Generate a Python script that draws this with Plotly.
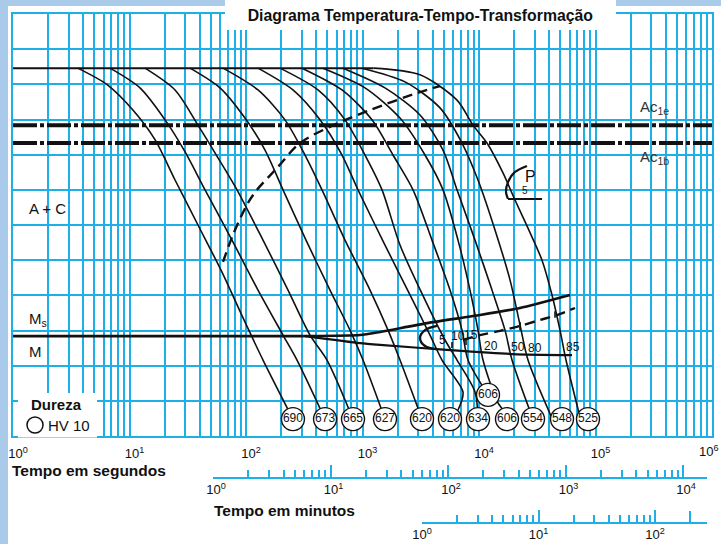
import numpy as np
import plotly.graph_objects as go

FONT = "Liberation Sans, Arial, Helvetica, sans-serif"
NARROW = "Liberation Sans Narrow, Liberation Sans, Arial, sans-serif"
GRID = "#1eaee8"
FRAME = "#a9cbe9"
INK = "#111111"

# ---------------- data (time in s, temperature in °C) ----------------
austenite_t = [1, 1243]
austenite_T = [1046, 1046]

ac_t = [1, 1e6]
ac1e_T = [884, 884]
ac1b_T = [833, 833]

c690_t = [3.6, 6.5, 10.7, 16.6, 24.6, 38.7, 62.2, 96.1, 140, 253]
c690_T = [1046, 998, 927, 842, 728, 600, 466, 330, 216, 48]
c673_t = [6.8, 12.3, 20.2, 30.0, 44.5, 75.8, 126.8, 207.8, 274, 477]
c673_T = [1046, 990, 899, 808, 700, 557, 415, 287, 216, 48]
c665_t = [13.6, 24.6, 38.7, 57.5, 83.7, 140, 229.4, 354.3, 495.8, 829]
c665_T = [1046, 984, 884, 791, 700, 557, 415, 287, 216, 48]
c627_t = [33.1, 59.8, 98, 145.6, 207.8, 327.3, 526, 781, 1010, 1560]
c627_T = [1046, 990, 904, 813, 700, 557, 415, 301, 216, 48]
c620a_t = [63.5, 126.8, 216.1, 320.9, 449.2, 707.6, 1160, 1656, 2098, 3241]
c620a_T = [1046, 984, 899, 799, 700, 557, 415, 301, 216, 48]
c620b_t = [126.8, 253, 431.7, 666.8, 915, 1560, 2557, 3796, 4813, 7289, 6603]
c620b_T = [1046, 984, 899, 799, 700, 543, 401, 287, 216, 125, 74]
c634_t = [195.8, 414.9, 707.6, 1051, 1471, 2098, 3439, 5108, 6475, 9241, 9804]
c634_T = [1046, 984, 899, 799, 700, 543, 387, 273, 216, 125, 48]
c606a_t = [302.4, 666.8, 1206, 1827, 2713, 3950, 5637, 7146, 8046, 11950]
c606a_T = [1046, 984, 899, 799, 700, 557, 415, 301, 216, 117]
c606b_t = [458, 1051, 2098, 3439, 4909, 6603, 8370, 9804, 10820, 14560, 16720]
c606b_T = [1046, 990, 904, 799, 700, 557, 415, 301, 216, 94, 68]
c554_t = [680, 1560, 3116, 4909, 6475, 9241, 12930, 16720, 19200, 29070]
c554_T = [1046, 990, 913, 813, 700, 557, 415, 301, 216, 48]
c548_t = [990, 2317, 4626, 7146, 9804, 13720, 18450, 22490, 26340, 41490]
c548_T = [1046, 1007, 933, 833, 728, 586, 444, 316, 216, 57]
c525_t = [1243, 3116, 6475, 8882, 11715, 16070, 20370, 26340, 34730, 42330, 49580, 55820, 72170]
c525_T = [1046, 1027, 955, 884, 833, 748, 671, 591, 500, 401, 301, 216, 65]

ferrite_start_t = [63.5, 77.3, 104.0, 124.3, 184.5, 290.7, 547.3, 1160, 3116, 4626]
ferrite_start_T = [495, 572, 663, 700, 762, 833, 882, 927, 978, 995]

ms_upper_t = [1, 290.7, 951.7, 1414, 3577, 10200, 22490, 60400]
ms_upper_T = [284, 284, 287, 296, 321, 344, 364, 401]
ms_lower_t = [320.9, 951.7, 1414, 5313, 19580, 62850]
ms_lower_T = [284, 264, 259, 245, 233, 230]
bainite_nose_t = [4360, 3439, 3116, 3439, 4360]
bainite_nose_T = [313, 301, 279, 256, 247]
bainite_mid_t = [7289, 10200, 15150, 22490, 33380, 46720, 66680]
bainite_mid_T = [273, 287, 299, 313, 330, 344, 364]

# short reading marks on the bainite lines (time, lower T, upper T)
mark_t = [5864, 7734, 22490, 44920]
mark_T_low = [250, 259, 301, 336]
mark_T_high = [267, 279, 324, 355]

pearlite_arc_t = [25820, 20370, 17740, 17050, 17740]
pearlite_arc_T = [768, 751, 722, 694, 674]
pearlite_base_t = [17740, 34730]
pearlite_base_T = [674, 674]

hv_t = [253, 477, 829, 1560, 3241, 5637, 9804, 11950, 17390, 29070, 51570, 86220]
hv_T = [48, 48, 48, 48, 48, 48, 48, 117, 48, 48, 48, 48]
hv_labels = ["690", "673", "665", "627", "620", "620", "634", "606", "606", "554", "548", "525"]

pct_labels = ["5", "10", "15", "20", "50", "80", "85"]
pct_t = [4813, 6603, 8540, 12680, 21610, 30240, 64110]
pct_T = [273, 284, 287, 256, 253, 250, 253]

sec_decades = [0, 1, 2, 3, 4, 5, 6]
min_decades = [0, 1, 2, 3, 4]
hour_decades = [0, 1, 2]
hour_extra_tick = [200]

curves = [
    (c690_t, c690_T), (c673_t, c673_T), (c665_t, c665_T), (c627_t, c627_T),
    (c620a_t, c620a_T), (c620b_t, c620b_T), (c634_t, c634_T), (c606a_t, c606a_T),
    (c606b_t, c606b_T), (c554_t, c554_T), (c548_t, c548_T), (c525_t, c525_T),
]

fig = go.Figure()

def line(x, y, width=1.6, dash="solid", shape="spline", color=INK, smoothing=0.9):
    fig.add_trace(go.Scatter(x=x, y=y, mode="lines",
                             line=dict(color=color, width=width, dash=dash,
                                       shape=shape, smoothing=smoothing if shape == "spline" else None),
                             hoverinfo="skip", showlegend=False))

line(austenite_t, austenite_T, width=2, shape="linear")
line(ac_t, ac1e_T, width=4, dash="24px,3px,4px,3px", shape="linear")
line(ac_t, ac1b_T, width=4, dash="24px,3px,4px,3px", shape="linear")
for ct, cT in curves:
    line(ct, cT, width=1.6, smoothing=0.8)
line(ferrite_start_t, ferrite_start_T, width=2.4, dash="10px,6px")
line(ms_upper_t, ms_upper_T, width=2.6, smoothing=0.6)
line(ms_lower_t, ms_lower_T, width=2.2, smoothing=0.6)
line(bainite_nose_t, bainite_nose_T, width=2.4, smoothing=1.0)
line(bainite_mid_t, bainite_mid_T, width=2.4, dash="10px,6px")
line(pearlite_arc_t, pearlite_arc_T, width=2.2, smoothing=0.8)
line(pearlite_base_t, pearlite_base_T, width=2.2, shape="linear")

mx, my = [], []
for t, lo, hi in zip(mark_t, mark_T_low, mark_T_high):
    mx += [t, t, None]
    my += [lo, hi, None]
line(mx, my, width=1.6, shape="linear")

fig.add_trace(go.Scatter(
    x=hv_t, y=hv_T, mode="markers+text", text=hv_labels,
    textposition="middle center",
    textfont=dict(family=NARROW, size=12, color=INK),
    marker=dict(size=23, color="white", line=dict(color=INK, width=1.4)),
    hoverinfo="skip", showlegend=False))

# invisible anchors so the minute / hour scales are drawn
for ax in ["x2", "x3", "x4"]:
    fig.add_trace(go.Scatter(x=[10], y=[0.5], xaxis=ax, yaxis="y2", mode="markers",
                             marker=dict(opacity=0), hoverinfo="skip", showlegend=False))

def sup(n):
    return f"10<sup>{n}</sup>"

sec_vals = [10 ** n for n in sec_decades[:-1]]
sec_minor = [k * 10 ** n for n in sec_decades[:-1] for k in range(2, 10)]
min_vals = [10 ** n for n in min_decades]
min_minor = [k * 10 ** n for n in min_decades[:-1] for k in range(2, 10)]
hour_vals = [10 ** n for n in hour_decades]
hour_minor = [k * 10 ** n for n in hour_decades[:-1] for k in range(2, 10)]

W, H = 721, 544
L, R, T, B = 13, 9, 14, 20
pw, ph = W - L - R, H - T - B

def px(xp):
    return (xp - L) / pw

def py(yp):
    return (H - B - yp) / ph

tick_common = dict(showgrid=False, linecolor=GRID, linewidth=1.5,
                   ticks="inside", ticklen=12, tickwidth=1.5, tickcolor=GRID,
                   tickfont=dict(size=13, color=INK), zeroline=False, automargin=False,
                   anchor="free", type="log", ticklabeloverflow="allow")

fig.update_layout(
    width=W, height=H, template="none",
    margin=dict(l=L, r=R, t=T, b=B, pad=0),
    paper_bgcolor=FRAME, plot_bgcolor="rgba(0,0,0,0)",
    font=dict(family=FONT, color=INK),
    showlegend=False,
    xaxis=dict(type="log", range=[0, 6], domain=[0, 1], anchor="y",
               tickmode="array", tickvals=sec_vals, ticktext=[sup(n) for n in sec_decades[:-1]],
               showgrid=True, gridcolor=GRID, gridwidth=1.5,
               minor=dict(tickmode="array", tickvals=sec_minor, showgrid=True,
                          gridcolor=GRID, gridwidth=1.5, ticks=""),
               ticks="", showline=True, linecolor=GRID, linewidth=1.5, mirror=True,
               zeroline=False, tickfont=dict(size=13, color=INK),
               ticklabelstandoff=5, ticklabelshift=5, automargin=False,
               ticklabeloverflow="allow"),
    yaxis=dict(range=[0, 1200], tick0=0, dtick=100, domain=[py(436), 1],
               showgrid=True, gridcolor=GRID, gridwidth=1.5, showticklabels=False,
               ticks="", showline=True, linecolor=GRID, linewidth=1.5, mirror=True,
               zeroline=False, automargin=False),
    xaxis2=dict(range=[0, 4.204], domain=[px(213), px(707)], position=py(478),
                tickmode="array", tickvals=min_vals, ticktext=[sup(n) for n in min_decades],
                minor=dict(tickmode="array", tickvals=min_minor, ticks="inside",
                           ticklen=7, tickwidth=1.5, tickcolor=GRID),
                showline=True, ticklabelshift=3, **tick_common),
    xaxis3=dict(range=[0, 2.446], domain=[px(422), px(707)], position=py(523),
                tickmode="array", tickvals=hour_vals, ticktext=[sup(n) for n in hour_decades],
                minor=dict(tickmode="array", tickvals=hour_minor, ticks="inside",
                           ticklen=7, tickwidth=1.5, tickcolor=GRID),
                showline=True, **tick_common),
    xaxis4=dict(range=[0, 2.446], domain=[px(422), px(707)], position=py(523),
                tickmode="array", tickvals=hour_extra_tick, showticklabels=False,
                showline=False, **tick_common),
    yaxis2=dict(visible=False, domain=[0, 0.15], anchor="x2", range=[0, 1]),
)

shapes = [
    dict(type="rect", xref="paper", yref="paper", layer="below",
         x0=px(8), x1=px(721), y0=py(544), y1=py(6), fillcolor="white", line=dict(width=0)),
    dict(type="rect", xref="paper", yref="paper", layer="above",
         x0=px(18), x1=px(97), y0=py(437.5), y1=py(393), fillcolor="white", line=dict(width=0)),
    dict(type="circle", xref="paper", yref="paper", layer="above",
         x0=px(27), x1=px(43), y0=py(433), y1=py(417), fillcolor="white",
         line=dict(color=INK, width=1.5)),
]
fig.update_layout(shapes=shapes)

ann = []
def A(text, x, y, size=13, xanchor="center", bold=False, family=FONT, color=INK):
    if bold:
        text = f"<b>{text}</b>"
    ann.append(dict(text=text, x=x, y=y, xref="paper", yref="paper", showarrow=False,
                    xanchor=xanchor, yanchor="middle",
                    font=dict(size=size, family=family, color=color)))

# title on its white plate
ann.append(dict(text="<b>Diagrama Temperatura-Tempo-Transformação</b>",
                x=px(225), y=py(0), xref="paper", yref="paper", xanchor="left", yanchor="top",
                width=391, height=30, bgcolor="white", borderpad=0, borderwidth=0,
                align="center", valign="middle", showarrow=False, xshift=0,
                font=dict(size=15.8, family=FONT, color=INK)))
A("10<sup>6</sup>", px(709), py(451), size=13)
A("Tempo em segundos", px(10), py(470), size=15.5, bold=True, xanchor="left")
A("Tempo em minutos", px(212), py(510), size=15.5, bold=True, xanchor="left")
A("Dureza", px(29), py(405), size=15, bold=True, xanchor="left")
A("HV 10", px(46), py(425), size=15, xanchor="left")

def D(text, t, temp, size=13, xanchor="center", family=FONT, color=INK):
    ann.append(dict(text=text, x=np.log10(t), y=temp, xref="x", yref="y",
                    showarrow=False, xanchor=xanchor, yanchor="middle",
                    font=dict(size=size, family=family, color=color)))

D("A + C", 1.32, 648, size=15, xanchor="left")
D("M<sub>s</sub>", 1.32, 330, size=15, xanchor="left")
D("M", 1.32, 239, size=15, xanchor="left")
D("Ac<sub>1e</sub>", 231700, 935, size=15, xanchor="left", color="#333333")
D("Ac<sub>1b</sub>", 231700, 793, size=15, xanchor="left", color="#333333")
D("P", 27400, 738, size=16)
D("5", 24820, 697, size=10, family=NARROW)
for lab, t, temp in zip(pct_labels, pct_t, pct_T):
    D(lab, t, temp, size=12, family=NARROW)

fig.update_layout(annotations=ann)
fig.write_html("out.html", config={"displayModeBar": False},
               post_script="document.body.style.margin='0';document.body.style.padding='0';")
